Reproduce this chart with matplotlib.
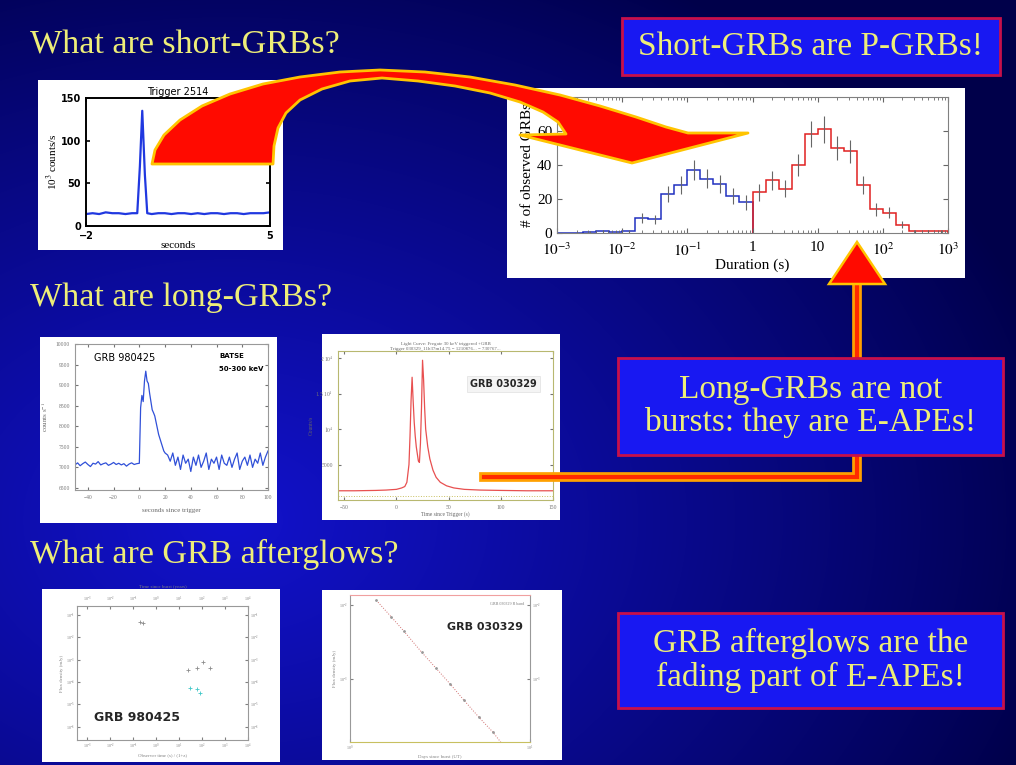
import numpy as np
import matplotlib
matplotlib.use('agg')
import matplotlib.pyplot as plt
from matplotlib.patches import Rectangle, Polygon

plt.rcParams['font.family'] = ['Liberation Serif', 'DejaVu Serif']
plt.rcParams['mathtext.fontset'] = 'stix'

W, H = 1016, 765
YELLOW = '#eeee78'
BOXBLUE = '#1818f2'
BOXEDGE = '#c8104a'

# --- short GRB light curve (Trigger 2514)
short_t = [-2.0, -1.75, -1.5, -1.25, -1.0, -0.75, -0.5, -0.25, -0.05, 0.05, 0.14,
           0.24, 0.33, 0.5, 0.75, 1.0, 1.25, 1.5, 1.75, 2.0, 2.25, 2.5, 2.75, 3.0,
           3.25, 3.5, 3.75, 4.0, 4.25, 4.5, 4.75, 5.0]
short_rate = [14, 15, 14, 16, 15, 15, 14, 15, 15, 70, 135, 60, 15, 14, 15, 15,
              14, 15, 15, 14, 15, 14, 15, 15, 14, 15, 15, 14, 15, 15, 15, 16]

# --- duration histogram, bins of 0.2 dex from 1e-3 s to 1e3 s
short_counts = [0, 0, 0.5, 1, 0.5, 1, 9, 8, 23, 28, 37, 32, 29, 22, 18]
long_counts = [24, 31, 26, 40, 58, 61, 50, 48, 28, 14, 12, 5, 1, 1, 1]

# --- GRB 980425 prompt light curve
lc1_t = list(range(-50, 0, 2)) + list(range(0, 21)) + list(range(22, 101, 2))
lc1_rate = ([7060, 7110, 7040, 7090, 7130, 7070, 7020, 7100, 7080, 7140, 7060, 7090,
             7110, 7050, 7080, 7120, 7070, 7100, 7060, 7090, 7030, 7080, 7110, 7070, 7090]
            + [7100, 8450, 8750, 8600, 9100, 9340, 9100, 9040, 8800, 8600, 8400, 8330,
               8250, 8100, 7950, 7800, 7700, 7600, 7500, 7400, 7350]
            + [7300, 7150, 7350, 7050, 7250, 6950, 7300, 7100, 7200, 6900, 7250, 7050,
               7300, 7000, 7150, 7350, 6950, 7200, 7100, 7250, 6950, 7300, 7100, 7050,
               7250, 7000, 7200, 7350, 6950, 7150, 7250, 7050, 7300, 7000, 7200, 7100,
               7350, 7050, 7250, 7400])

# --- GRB 030329 prompt light curve
lc2_t = [-56, -40, -20, -10, 0, 5, 8, 10, 12, 13, 14, 15, 16, 17, 18, 19, 20, 21, 22,
         23, 24, 25, 26, 27, 28, 30, 32, 35, 38, 42, 48, 55, 65, 80, 100, 125, 150]
lc2_rate = [1300, 1300, 1350, 1400, 1500, 1700, 1900, 2500, 5000, 9000, 14000, 17300,
            14000, 11000, 9000, 7500, 6500, 5500, 5300, 8000, 13000, 19700, 17000, 13000,
            10000, 7500, 5800, 4200, 3200, 2500, 2000, 1700, 1500, 1400, 1350, 1300, 1300]

# --- GRB 980425 afterglow points
ag1_gray_t = [0.2, 0.28, 25, 58, 110, 220]
ag1_gray_f = [5e-2, 4.4e-2, 3.5e-4, 4.1e-4, 8e-4, 4.1e-4]
ag1_cyan_t = [30, 58, 80]
ag1_cyan_f = [5.5e-5, 4.7e-5, 3.3e-5]

# --- GRB 030329 afterglow points
ag2_t = [1.4, 1.7, 2.0, 2.5, 3.0, 3.6, 4.3, 5.2, 6.2, 7.0]
ag2_f = [1.17e-2, 6.9e-3, 4.4e-3, 2.3e-3, 1.4e-3, 8.5e-4, 5.1e-4, 3.0e-4, 1.9e-4, 1.3e-4]


fig = plt.figure(figsize=(W / 100, H / 100), dpi=100)

# background (gradient, white panels, headings)
bg = fig.add_axes([0, 0, 1, 1])
bg.set_xlim(0, W)
bg.set_ylim(H, 0)
bg.axis('off')
yy, xx = np.mgrid[0:H, 0:W]
d = np.sqrt(((xx - 230) / 850.0) ** 2 + ((yy - 520) / 620.0) ** 2)
t = np.clip(1 - d, 0, 1) ** 0.9
dark = np.array([0x00, 0x00, 0x4a]) / 255.0
bright = np.array([0x12, 0x12, 0xcc]) / 255.0
bg.imshow(dark + t[..., None] * (bright - dark), extent=[0, W, H, 0], aspect='auto')


def panel(x0, y0, x1, y1):
    bg.add_patch(Rectangle((x0, y0), x1 - x0, y1 - y0, facecolor='white', edgecolor='none'))


def px_axes(x0, y0, x1, y1):
    return fig.add_axes([x0 / W, 1 - y1 / H, (x1 - x0) / W, (y1 - y0) / H])


for box in [(38, 80, 283, 250), (507, 88, 965, 278), (40, 337, 277, 523),
            (322, 334, 560, 520), (42, 589, 280, 762), (322, 590, 562, 760)]:
    panel(*box)

for txt, y in [('What are short-GRBs?', 45), ('What are long-GRBs?', 298),
               ('What are GRB afterglows?', 554)]:
    bg.text(30, y, txt, color=YELLOW, fontsize=24.5, ha='left', va='center')

# panel 1: short burst
ax1 = px_axes(86, 98, 270, 226)
ax1.plot(short_t, short_rate, color='#2038e0', lw=1.6)
ax1.set_xlim(-2, 5)
ax1.set_ylim(0, 150)
ax1.set_xticks([-2, 5])
ax1.set_yticks([0, 50, 100, 150])
ax1.tick_params(direction='in', top=True, right=True, labelsize=7, width=1.2, length=3)
for lab in ax1.get_xticklabels() + ax1.get_yticklabels():
    lab.set_fontweight('bold')
    lab.set_family('DejaVu Sans')
for s in ax1.spines.values():
    s.set_linewidth(1.4)
ax1.set_title('Trigger 2514', fontsize=7, family='DejaVu Sans', pad=2)
ax1.set_xlabel('seconds', fontsize=8, labelpad=0)
ax1.set_ylabel('10$^3$ counts/s', fontsize=8, labelpad=1)

# panel 2: duration distribution
ax2 = px_axes(557, 97, 948, 233)
edges_s = np.logspace(-3, 0, len(short_counts) + 1)
edges_l = np.logspace(0, 3, len(long_counts) + 1)
ax2.stairs(short_counts, edges_s, color='#2030c0', lw=1.1)
ax2.stairs(long_counts, edges_l, color='#e02020', lw=1.1)
for cnt, ed in [(short_counts, edges_s), (long_counts, edges_l)]:
    c = np.array(cnt, dtype=float)
    cen = np.sqrt(ed[:-1] * ed[1:])
    m = c > 0
    ax2.errorbar(cen[m], c[m], yerr=np.sqrt(c[m]), fmt='none', ecolor='0.4', elinewidth=0.8)
ax2.set_xscale('log')
ax2.set_xlim(1e-3, 1e3)
ax2.set_ylim(0, 80)
ax2.set_xticks([1e-3, 1e-2, 1e-1, 1, 10, 1e2, 1e3])
ax2.set_xticklabels(['$10^{-3}$', '$10^{-2}$', '$10^{-1}$', '1', '10', '$10^2$', '$10^3$'])
ax2.set_yticks([0, 20, 40, 60])
ax2.tick_params(which='both', direction='in', top=True, right=True, labelsize=11, color='0.4')
ax2.tick_params(axis='x', pad=6)
ax2.set_xlabel('Duration (s)', fontsize=11, labelpad=0)
ax2.set_ylabel('# of observed GRBs', fontsize=11, labelpad=2)
for s in ax2.spines.values():
    s.set_color('0.5')

# panel 3: GRB 980425 prompt
ax3 = px_axes(75, 344, 268, 490)
ax3.plot(lc1_t, lc1_rate, color='#3050d8', lw=0.9)
ax3.set_xlim(-50, 100)
ax3.set_ylim(6450, 10000)
ax3.set_xticks(range(-40, 101, 20))
ax3.set_yticks(range(6500, 10001, 500))
ax3.tick_params(direction='in', top=True, right=True, labelsize=4, colors='0.45', length=2)
for s in ax3.spines.values():
    s.set_color('0.6')
ax3.set_xlabel('seconds since trigger', fontsize=5, color='0.4', labelpad=6)
ax3.set_ylabel('counts s$^{-1}$', fontsize=5, color='0.4')
ax3.text(-35, 9650, 'GRB 980425', fontsize=7, family='DejaVu Sans', va='center')
ax3.text(62, 9700, 'BATSE', fontsize=5, family='DejaVu Sans', weight='bold', va='center')
ax3.text(62, 9400, '50-300 keV', fontsize=5, family='DejaVu Sans', weight='bold', va='center')

# panel 4: GRB 030329 prompt
ax4 = px_axes(338, 351, 553, 500)
ax4.plot(lc2_t, lc2_rate, color='#e85050', lw=0.9)
ax4.axhline(500, color='#c8c060', lw=0.7, ls=':')
ax4.set_xlim(-56, 150)
ax4.set_ylim(0, 21000)
ax4.set_xticks([-50, 0, 50, 100, 150])
ax4.set_yticks([5000, 10000, 15000, 20000])
ax4.set_yticklabels(['5000', '$10^4$', '1.5 10$^4$', '2 10$^4$'])
ax4.tick_params(direction='in', top=True, right=True, labelsize=4, colors='0.45', length=2)
for s in ax4.spines.values():
    s.set_color('#b8b870')
ax4.set_title('Light Curve: Fregate 30 keV triggered +GRB\n'
              'Trigger 030329_11h37m14.75 = 1210876... = 730767...', fontsize=3.5, color='0.4', pad=1)
ax4.set_xlabel('Time since Trigger (s)', fontsize=4, color='0.4', labelpad=1)
ax4.set_ylabel('Counts/s', fontsize=4, color='0.4', labelpad=1)
ax4.text(0.77, 0.78, 'GRB 030329', transform=ax4.transAxes, fontsize=7, weight='bold',
         family='DejaVu Sans', ha='center', va='center', color='0.15',
         bbox=dict(facecolor='#f4f4f4', edgecolor='#e0e0e0', pad=2, lw=0.5))

# panel 5: GRB 980425 afterglow
ax5 = px_axes(77, 606, 248, 740)
ax5.plot(ag1_gray_t, ag1_gray_f, '+', color='0.55', ms=3, mew=0.6)
ax5.plot(ag1_cyan_t, ag1_cyan_f, '+', color='#40c8c8', ms=3, mew=0.6)
ax5.set_xscale('log')
ax5.set_yscale('log')
ax5.set_xlim(10 ** -3.45, 1e4)
ax5.set_ylim(10 ** -6.6, 10 ** -0.6)
ax5.set_xticks([1e-3, 1e-2, 1e-1, 1, 10, 1e2, 1e3, 1e4])
ax5.set_yticks([1e-6, 1e-5, 1e-4, 1e-3, 1e-2, 1e-1])
ax5.tick_params(which='both', direction='in', labelsize=3, colors='0.5', length=2,
                top=True, right=True, labeltop=True, labelright=True, pad=1.5)
ax5.minorticks_off()
for s in ax5.spines.values():
    s.set_color('0.6')
ax5.set_xlabel('Observer time (s) / (1+z)', fontsize=3.5, color='0.5', labelpad=1)
ax5.set_ylabel('Flux density (mJy)', fontsize=3.5, color='0.5', labelpad=1)
ax5.set_title('Time since burst (years)', fontsize=3.5, color='0.5', pad=5)
ax5.text(0.1, 0.17, 'GRB 980425', transform=ax5.transAxes, fontsize=9, weight='bold',
         family='DejaVu Sans', color='0.15', va='center')

# panel 6: GRB 030329 afterglow
ax6 = px_axes(350, 595, 530, 742)
ax6.plot(ag2_t, ag2_f, color='#d07070', lw=0.7, ls=':')
ax6.plot(ag2_t, ag2_f, '.', color='0.6', ms=2)
ax6.set_xscale('log')
ax6.set_yscale('log')
ax6.set_xlim(1, 10)
ax6.set_ylim(10 ** -3.86, 10 ** -1.86)
ax6.set_xticks([1, 10])
ax6.set_yticks([1e-3, 1e-2])
ax6.tick_params(which='both', direction='in', labelsize=3, colors='0.5', length=2,
                right=True, labelright=True, pad=1.5)
ax6.minorticks_off()
ax6.spines['bottom'].set_color('#c8c060')
ax6.spines['top'].set_color('#f0a0a0')
ax6.spines['left'].set_color('0.6')
ax6.spines['right'].set_color('0.6')
ax6.set_xlabel('Days since burst (UT)', fontsize=3.5, color='0.5', labelpad=1)
ax6.set_ylabel('Flux density (mJy)', fontsize=3.5, color='0.5', labelpad=1)
ax6.text(0.97, 0.93, 'GRB 030329 R band', transform=ax6.transAxes, fontsize=3,
         color='0.5', ha='right')
ax6.text(0.75, 0.78, 'GRB 030329', transform=ax6.transAxes, fontsize=8, weight='bold',
         family='DejaVu Sans', color='0.15', ha='center', va='center')

# foreground: arrows and statement boxes
fg = fig.add_axes([0, 0, 1, 1])
fg.set_xlim(0, W)
fg.set_ylim(H, 0)
fg.axis('off')
fg.patch.set_alpha(0)
fg.set_zorder(10)

outer = [(152, 164), (155, 150), (164, 135), (180, 120), (202, 106), (230, 94),
         (263, 84), (300, 77), (340, 72), (380, 70), (425, 72), (470, 77), (515, 85),
         (560, 95), (600, 106), (636, 117), (666, 127), (688, 133)]
head = [(748, 133), (632, 163), (520, 135), (566, 134)]
inner = [(558, 122), (543, 112), (520, 102), (490, 93), (455, 86), (418, 81), (382, 78),
         (350, 81), (322, 89), (300, 100), (286, 113), (278, 128), (274, 146), (273, 164)]
fg.add_patch(Polygon(outer + head + inner, closed=True, facecolor='#ff0a00',
                     edgecolor='#ffc400', lw=2, joinstyle='round', zorder=5))

# L-shaped connector from GRB 030329 to the duration histogram
fg.plot([484, 857, 857], [477, 477, 283], color='#ffa000', lw=7, solid_joinstyle='miter', zorder=2)
fg.plot([484, 857, 857], [477, 477, 283], color='#ff2a00', lw=3, solid_joinstyle='miter', zorder=3)
fg.add_patch(Polygon([(829, 284), (885, 284), (857, 242)], closed=True, facecolor='#ff0a00',
                     edgecolor='#ffc400', lw=1.8, zorder=4))

for (x0, y0, x1, y1), txt in [((622, 18, 1000, 75), 'Short-GRBs are P-GRBs!'),
                              ((618, 358, 1003, 455), 'Long-GRBs are not\nbursts: they are E-APEs!'),
                              ((618, 613, 1003, 708), 'GRB afterglows are the\nfading part of E-APEs!')]:
    fg.add_patch(Rectangle((x0, y0), x1 - x0, y1 - y0, facecolor=BOXBLUE,
                           edgecolor=BOXEDGE, lw=2, zorder=6))
    fg.text((x0 + x1) / 2, (y0 + y1) / 2, txt, color=YELLOW, fontsize=24,
            ha='center', va='center', linespacing=1.1, zorder=7)

fig.savefig('out.png', dpi=100)
